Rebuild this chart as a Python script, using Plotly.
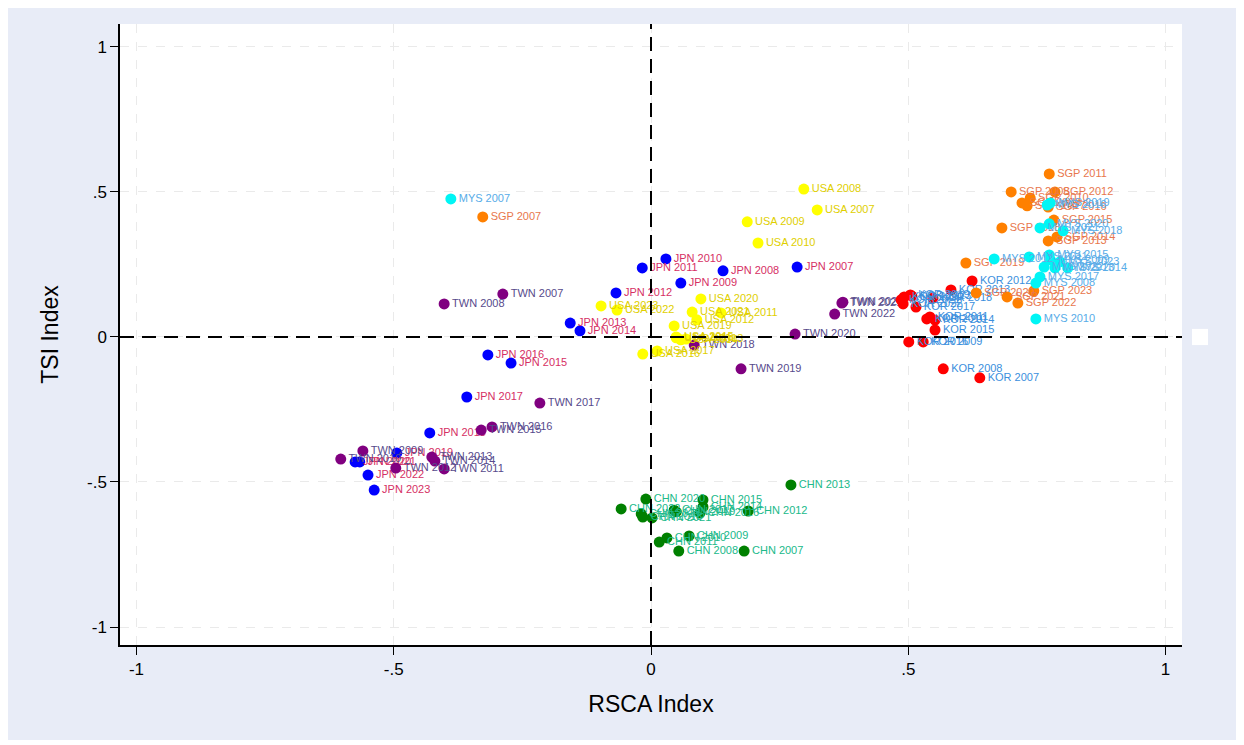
import plotly.graph_objects as go

years = list(range(2007, 2024))

jpn_rsca = [0.284, 0.140, 0.058, 0.029, -0.017, -0.068, -0.157, -0.138, -0.272, -0.317, -0.358, -0.430, -0.494, -0.575, -0.566, -0.550, -0.538]
jpn_tsi = [0.241, 0.228, 0.186, 0.269, 0.238, 0.152, 0.048, 0.021, -0.090, -0.062, -0.207, -0.331, -0.400, -0.431, -0.431, -0.476, -0.528]

twn_rsca = [-0.288, -0.402, -0.560, -0.603, -0.402, -0.496, -0.426, -0.420, -0.330, -0.309, -0.216, 0.084, 0.175, 0.280, 0.371, 0.357, 0.373]
twn_tsi = [0.148, 0.114, -0.393, -0.421, -0.455, -0.452, -0.414, -0.428, -0.321, -0.310, -0.228, -0.028, -0.110, 0.010, 0.117, 0.079, 0.120]

usa_rsca = [0.323, 0.297, 0.187, 0.208, 0.136, 0.089, 0.068, 0.058, 0.049, -0.016, 0.012, 0.049, 0.045, 0.097, 0.080, -0.066, -0.097]
usa_tsi = [0.438, 0.510, 0.397, 0.324, 0.083, 0.059, -0.007, -0.010, 0.000, -0.059, -0.048, -0.003, 0.038, 0.131, 0.086, 0.093, 0.107]

kor_rsca = [0.639, 0.568, 0.529, 0.536, 0.542, 0.624, 0.583, 0.552, 0.552, 0.501, 0.515, 0.548, 0.504, 0.492, 0.486, 0.490, 0.507]
kor_tsi = [-0.141, -0.110, -0.017, 0.062, 0.069, 0.193, 0.162, 0.058, 0.024, -0.017, 0.103, 0.134, 0.145, 0.138, 0.128, 0.114, 0.141]

sgp_rsca = [-0.327, 0.700, 0.721, 0.737, 0.774, 0.785, 0.772, 0.789, 0.783, 0.772, 0.731, 0.682, 0.612, 0.632, 0.692, 0.713, 0.744]
sgp_tsi = [0.414, 0.500, 0.462, 0.479, 0.562, 0.500, 0.331, 0.345, 0.403, 0.448, 0.452, 0.376, 0.255, 0.152, 0.138, 0.117, 0.159]

mys_rsca = [-0.389, 0.748, 0.776, 0.748, 0.735, 0.667, 0.785, 0.810, 0.774, 0.770, 0.756, 0.801, 0.776, 0.774, 0.756, 0.764, 0.795]
mys_tsi = [0.476, 0.186, 0.266, 0.062, 0.276, 0.269, 0.238, 0.238, 0.283, 0.455, 0.207, 0.366, 0.462, 0.390, 0.376, 0.241, 0.259]

chn_rsca = [0.181, 0.054, 0.074, 0.031, 0.016, 0.189, 0.272, 0.101, 0.101, 0.095, 0.045, -0.016, 0.049, -0.010, 0.002, -0.058, -0.019]
chn_tsi = [-0.738, -0.738, -0.686, -0.693, -0.707, -0.600, -0.510, -0.586, -0.562, -0.607, -0.597, -0.621, -0.603, -0.559, -0.624, -0.593, -0.610]

series = [
    ("JPN", jpn_rsca, jpn_tsi, "#0000FF", "#D62F64"),
    ("TWN", twn_rsca, twn_tsi, "#800080", "#574A8C"),
    ("USA", usa_rsca, usa_tsi, "#FFFF00", "#E0CF00"),
    ("KOR", kor_rsca, kor_tsi, "#FF0000", "#3B8FDD"),
    ("SGP", sgp_rsca, sgp_tsi, "#FF8000", "#E8774D"),
    ("MYS", mys_rsca, mys_tsi, "#00F5F5", "#58ACE8"),
    ("CHN", chn_rsca, chn_tsi, "#008000", "#20B98A"),
]

fig = go.Figure()
for name, xs, ys, mcol, tcol in series:
    fig.add_trace(go.Scatter(
        x=xs, y=ys, mode="markers+text",
        text=[f"{name} {y}" for y in years],
        textposition="middle right",
        textfont=dict(family="Liberation Sans, Arial", size=11, color=tcol),
        marker=dict(size=11, color=mcol, line=dict(width=0)),
        name=name, showlegend=False, cliponaxis=False,
    ))

FONT = "Liberation Sans, Arial"
fig.update_layout(
    width=1231, height=732,
    margin=dict(l=112, r=57, t=16, b=95),
    paper_bgcolor="#E8ECF7",
    plot_bgcolor="#FFFFFF",
    font=dict(family=FONT, color="#000000"),
    xaxis=dict(
        automargin=False,
        range=[-1.032, 1.032],
        tickvals=[-1, -0.5, 0, 0.5, 1],
        ticktext=["-1", "-.5", "0", ".5", "1"],
        ticks="outside", ticklen=8, tickwidth=1.2, tickcolor="#000000",
        showline=True, linecolor="#000000", linewidth=1.5,
        showgrid=True, gridcolor="#EAEAEA", griddash="dash", gridwidth=1,
        zeroline=False,
        tickfont=dict(size=17, family=FONT),
        title=dict(text="RSCA Index", font=dict(size=23, family=FONT), standoff=18),
    ),
    yaxis=dict(
        automargin=False,
        range=[-1.062, 1.079],
        tickvals=[-1, -0.5, 0, 0.5, 1],
        ticktext=["-1", "-.5", "0", ".5", "1"],
        ticks="outside", ticklen=8, tickwidth=1.2, tickcolor="#000000",
        showline=True, linecolor="#000000", linewidth=1.5,
        showgrid=True, gridcolor="#EAEAEA", griddash="dash", gridwidth=1,
        zeroline=False,
        tickfont=dict(size=17, family=FONT),
        title=dict(text="TSI Index", font=dict(size=23, family=FONT), standoff=22),
    ),
    shapes=[
        dict(type="line", xref="x", yref="paper", x0=0, x1=0, y0=0, y1=1,
             line=dict(color="#000000", width=2, dash="14px,8px")),
        dict(type="line", xref="paper", yref="y", x0=0, x1=1, y0=0, y1=0,
             line=dict(color="#000000", width=2, dash="14px,8px")),
        dict(type="rect", xref="paper", yref="paper", x0=1.0094, x1=1.0245, y0=0.483, y1=0.509,
             fillcolor="#FFFFFF", line=dict(width=0)),
    ],
)

fig.write_html("out.html")
